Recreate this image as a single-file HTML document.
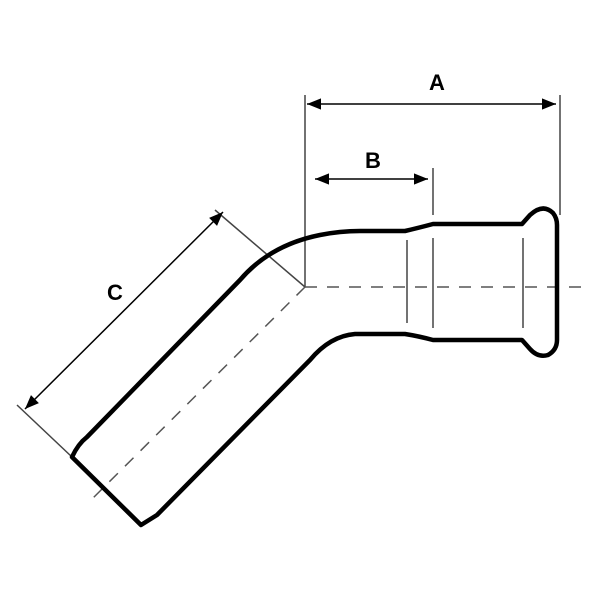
<!DOCTYPE html>
<html><head><style>html,body{margin:0;padding:0;background:#fff}</style></head>
<body>
<svg width="600" height="600" viewBox="0 0 600 600" xmlns="http://www.w3.org/2000/svg">
<defs>
<marker id="ar" viewBox="0 0 10 10" refX="10" refY="5" markerWidth="7" markerHeight="7" orient="auto-start-reverse" markerUnits="userSpaceOnUse">
<path d="M0,0 L10,5 L0,10 z" fill="#000"/></marker>
<marker id="ar2" viewBox="0 0 10 10" refX="10" refY="5" markerWidth="16" markerHeight="14" orient="auto-start-reverse" markerUnits="userSpaceOnUse">
<path d="M0,1 L10,5 L0,9 z" fill="#000"/></marker>
</defs>
<g stroke="#444" stroke-width="1.5" fill="none">
<line x1="305" y1="95" x2="305" y2="287"/>
<line x1="560" y1="95" x2="560" y2="215"/>
<line x1="433" y1="168" x2="433" y2="215"/>
<line x1="433" y1="238" x2="433" y2="328"/>
<line x1="407" y1="240" x2="407" y2="323"/>
<line x1="523" y1="238" x2="523" y2="328"/>
<line x1="215" y1="210" x2="305" y2="287"/>
<line x1="17" y1="405" x2="72" y2="457"/>
</g>
<g stroke="#555" stroke-width="1.5" fill="none" stroke-dasharray="12,10">
<line x1="305" y1="287" x2="590" y2="287"/>
<line x1="305" y1="287" x2="88" y2="503"/>
</g>
<g stroke="#000" stroke-width="1.5">
<line x1="307" y1="104" x2="556" y2="104" marker-start="url(#ar2)" marker-end="url(#ar2)"/>
<line x1="315" y1="179" x2="428" y2="179" marker-start="url(#ar2)" marker-end="url(#ar2)"/>
<line x1="25" y1="409" x2="223" y2="212" marker-start="url(#ar2)" marker-end="url(#ar2)"/>
</g>
<g stroke="#000" stroke-width="4.5" fill="none" stroke-linejoin="round">
<path d="M72,457 Q78,444 87,437 L240,280 Q270,245 320,235 Q340,231 360,231 L405,231 Q418,228 433,224 L522,224 L530,215 Q543,203 553,213 Q557,218 557,225 L557,340 Q557,350 548,355 Q538,358 530,349 L522,340 L433,340 Q418,336 405,334 L355,334 Q330,336 310,360 L157,515 L141,525 L72,457 Z"/>
</g>
<g font-family="Liberation Sans, sans-serif" font-weight="bold" font-size="22" fill="#000" text-anchor="middle">
<text x="437" y="90">A</text>
<text x="373" y="168">B</text>
<text x="115" y="300">C</text>
</g>
</svg>
</body></html>
